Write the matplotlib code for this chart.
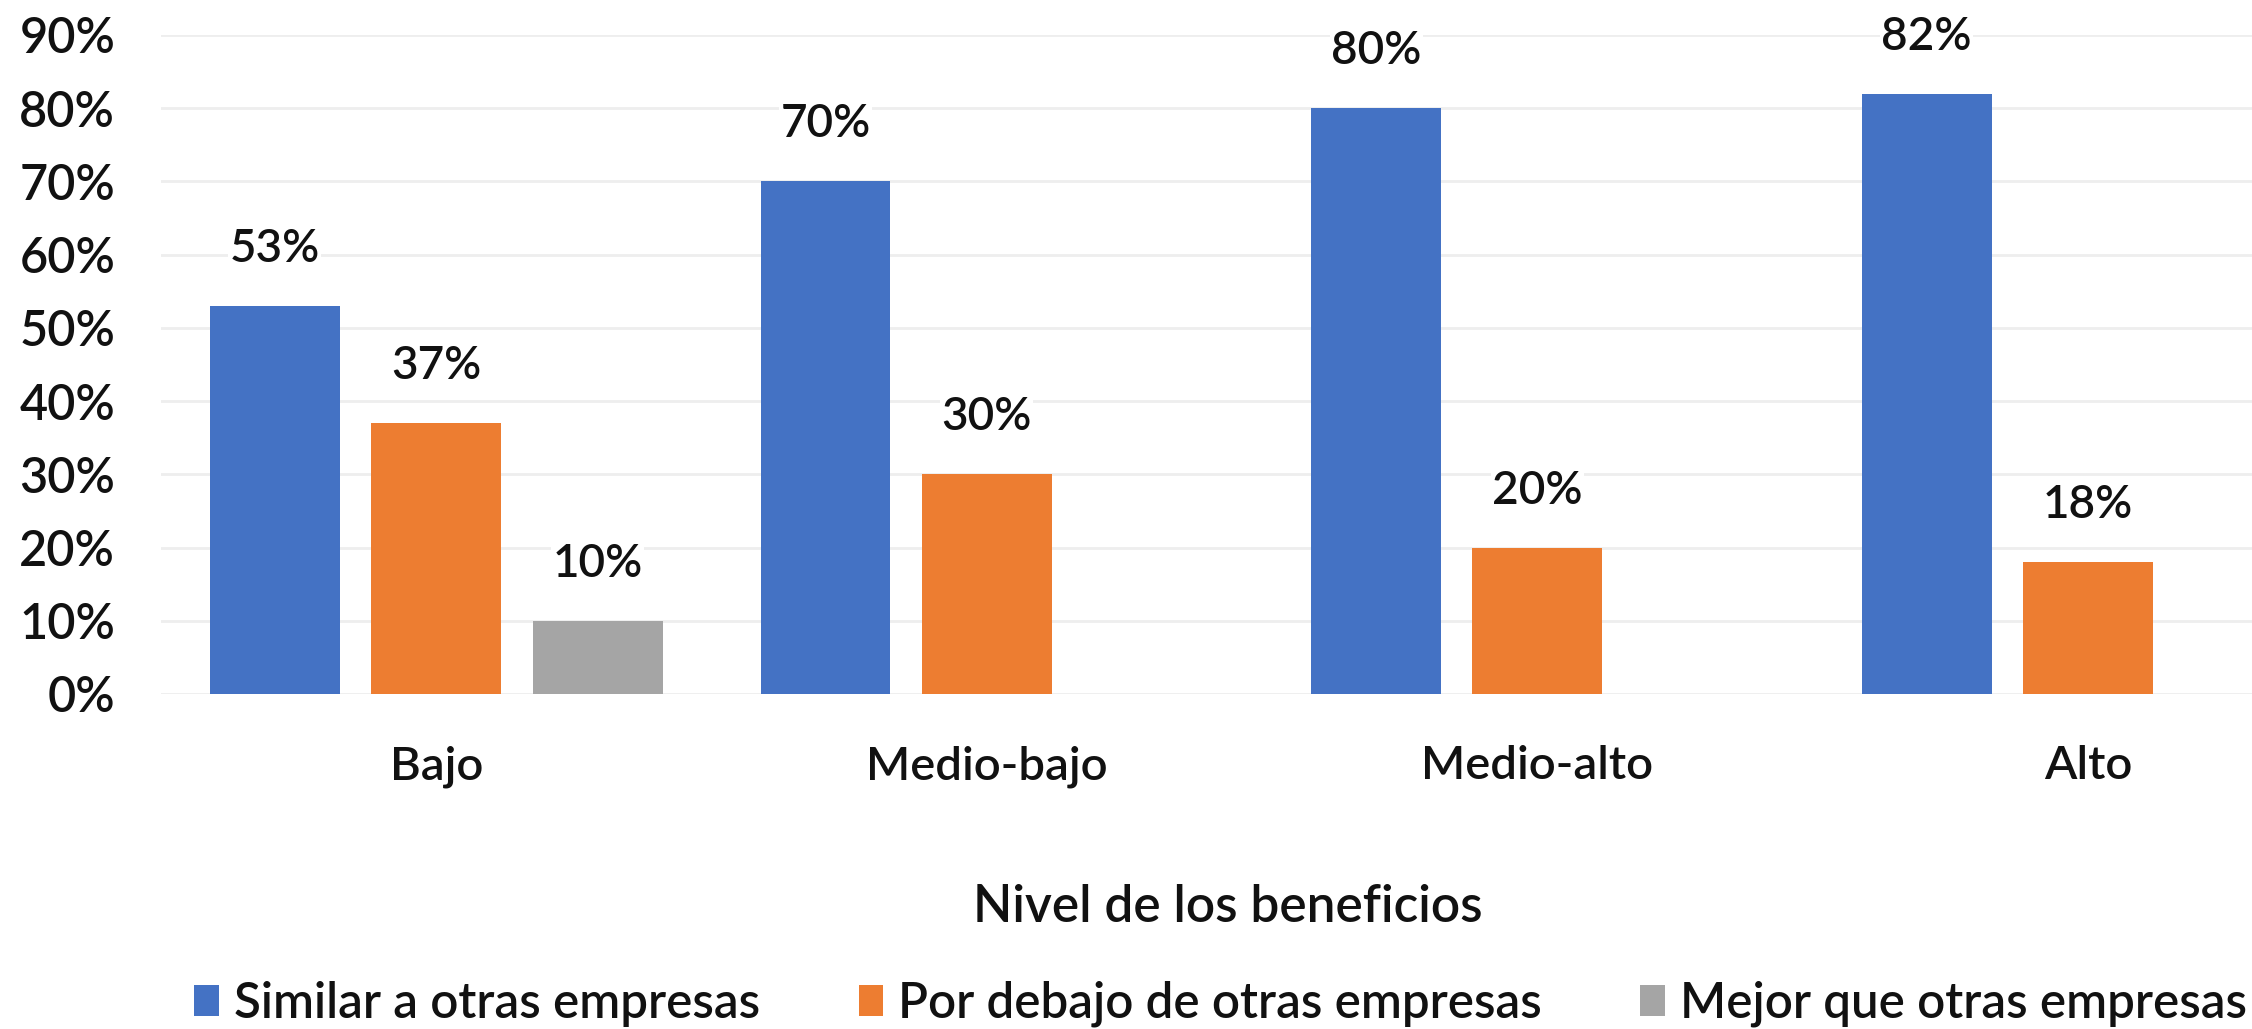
import numpy as np
import matplotlib
matplotlib.use("Agg")
import matplotlib.pyplot as plt
from matplotlib.ticker import PercentFormatter

plt.rcParams['font.family'] = ['Lato', 'DejaVu Sans']
plt.rcParams['font.weight'] = 'semibold'

# Beneficio por nivel, en fracciones
niveles = ['Bajo', 'Medio-bajo', 'Medio-alto', 'Alto']
similar = [0.53, 0.70, 0.80, 0.82]
por_debajo = [0.37, 0.30, 0.20, 0.18]
mejor = [0.10, 0.0, 0.0, 0.0]

series = [
    ('Similar a otras empresas', similar, '#4472C4'),
    ('Por debajo de otras empresas', por_debajo, '#ED7D31'),
    ('Mejor que otras empresas', mejor, '#A5A5A5'),
]

fig = plt.figure(figsize=(22.52, 10.29), dpi=100)
ax = fig.add_axes([0.0715, 0.3256, 1 - 0.0715, 0.6404])

x = np.arange(len(niveles))
step = 0.293
width = 0.236

for i, (name, vals, color) in enumerate(series):
    pos = x + (i - 1) * step
    ax.bar(pos, vals, width, color=color, label=name, zorder=2)
    for px, v in zip(pos, vals):
        if v > 0:
            ax.annotate(f'{v:.0%}', (px, v), xytext=(0, 41), textcoords='offset points',
                        ha='center', va='center', fontsize=33, color='#111111',
                        bbox=dict(facecolor='white', edgecolor='none', pad=1), zorder=3)

ax.set_xlim(-0.5, 3.298)
ax.set_ylim(0, 0.9)
ax.set_yticks(np.arange(0, 0.91, 0.1))
ax.yaxis.set_major_formatter(PercentFormatter(1.0, decimals=0))
ax.set_xticks(x)
ax.set_xticklabels(niveles)
ax.tick_params(axis='y', length=0, labelsize=35, pad=33, labelcolor='#111111')
ax.tick_params(axis='x', length=0, labelsize=34, pad=37, labelcolor='#111111')
ax.grid(axis='y', color='#eeeeee', linewidth=2, zorder=0)
ax.set_axisbelow(True)
for s in ax.spines.values():
    s.set_visible(False)

fig.text(0.545, 1 - 908 / 1029, 'Nivel de los beneficios', ha='center', va='center',
         fontsize=37, color='#111111')

fig.legend(loc='center', bbox_to_anchor=(0.542, 1 - 1004 / 1029), ncol=3, frameon=False,
           fontsize=35.5, handlelength=0.5, handleheight=0.6, handletextpad=0.3,
           columnspacing=2.0, labelcolor='#111111')

fig.savefig('out.png', dpi=100)
